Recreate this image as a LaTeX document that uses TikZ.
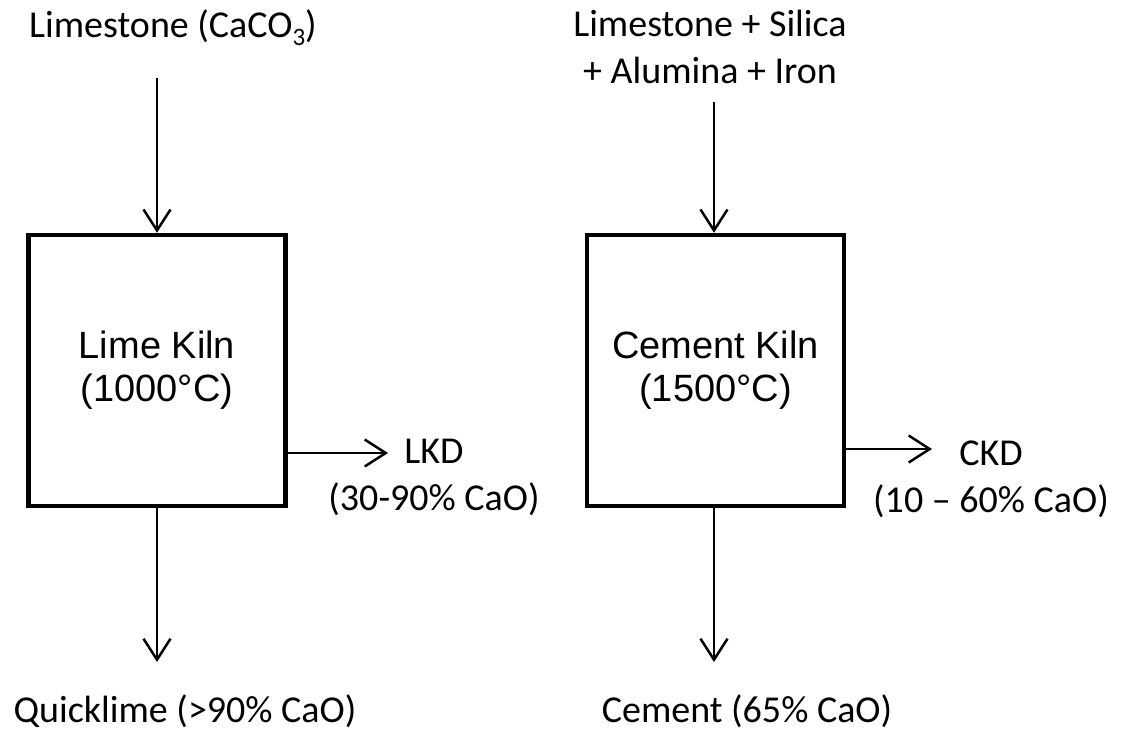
\documentclass[tikz,border=0pt]{standalone}
\usepackage{fontspec}
\setmainfont{Carlito}
\newfontfamily\boxfont{Liberation Sans}
\usetikzlibrary{arrows.meta}
\tikzset{
  kiln/.style={draw, line width=4.5pt, minimum width=257pt, minimum height=271pt, inner sep=0pt, align=center, font=\boxfont\fontsize{38}{43}\selectfont},
  lbl/.style={inner sep=0pt, align=center, font=\fontsize{38}{46.5}\selectfont},
  flow/.style={line width=2.5pt, -{Straight Barb[length=21pt,width=27pt,line width=2.5pt]}}
}
\begin{document}
\begin{tikzpicture}[x=1pt,y=-1pt]
\useasboundingbox (0,0) rectangle (1123,732);
% kilns
\node[kiln] (lime) at (157,370.5) {Lime Kiln\\(1000°C)};
\node[kiln] (cem) at (715.5,370.5) {Cement Kiln\\(1500°C)};
% labels (base anchor = baseline of the last line)
\node[lbl, anchor=base west] (limestone) at (29,37) {Limestone (CaCO\raisebox{-0.22em}{\fontsize{25}{25}\selectfont 3})};
\node[lbl, anchor=base] (mix) at (710,83) {Limestone + Silica\\+ Alumina + Iron};
\node[lbl, anchor=base] (lkd) at (434,510) {LKD\\(30-90\% CaO)};
\node[lbl, anchor=base] (ckd) at (991,512) {CKD\\(10 – 60\% CaO)};
\node[lbl, anchor=base] (quick) at (185,722) {Quicklime (>90\% CaO)};
\node[lbl, anchor=base] (cement) at (747,722) {Cement (65\% CaO)};
% connector ends
\coordinate (in1) at (157,78);
\coordinate (out1) at (157,662);
\coordinate (side1) at (388,453);
\coordinate (in2) at (714,102);
\coordinate (out2) at (714,662);
\coordinate (side2) at (932,449);
% connectors
\draw[flow] (in1) -- (in1 |- lime.north);
\draw[flow] (out1 |- lime.south) -- (out1);
\draw[flow] (lime.east |- side1) -- (side1);
\draw[flow] (in2) -- (in2 |- cem.north);
\draw[flow] (out2 |- cem.south) -- (out2);
\draw[flow] (cem.east |- side2) -- (side2);
\end{tikzpicture}
\end{document}
